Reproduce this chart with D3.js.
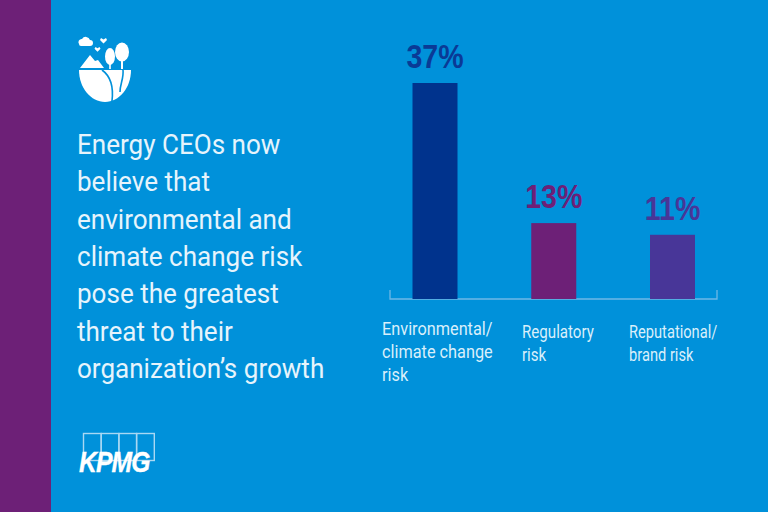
<!DOCTYPE html>
<html>
<head>
<meta charset="utf-8">
<script src="https://cdn.jsdelivr.net/npm/d3@7"></script>
<style>
  html, body { margin: 0; padding: 0; background: #0091da; }
  svg { display: block; }
</style>
</head>
<body>
<svg id="chart" width="768" height="512"></svg>
<script>
var categories = ["Environmental/|climate change|risk", "Regulatory|risk", "Reputational/|brand risk"];
var values = [37, 13, 11];
var barColors = ["#00338d", "#6d2077", "#483698"];
var labelColors = ["#0a3a96", "#6d2077", "#483698"];
var headline = [
  "Energy CEOs now",
  "believe that",
  "environmental and",
  "climate change risk",
  "pose the greatest",
  "threat to their",
  "organization\u2019s growth"
];

var blue = "#0091da";
var svg = d3.select("#chart");

// background and purple side band
svg.append("rect").attr("width", 768).attr("height", 512).attr("fill", blue);
svg.append("rect").attr("width", 51).attr("height", 512).attr("fill", "#6d2077");

// Scales, the baseline sits at y=299 and the tallest bar tops out at y=83
var x = d3.scalePoint().domain(categories).range([435, 672.5]);
var y = d3.scaleLinear().domain([0, 37]).range([299, 83]);
var barWidth = 45;

// Axis bracket
var axis = svg.append("g").attr("fill", "none").attr("stroke", "#6db8e6").attr("stroke-width", 1.3);
axis.append("path").attr("d", d3.line()([[390, 290], [390, 299], [717, 299], [717, 290]]));

// Bars
svg.selectAll("rect.bar")
  .data(values)
  .enter().append("rect")
    .attr("class", "bar")
    .attr("x", function(d, i) { return x(categories[i]) - barWidth / 2; })
    .attr("y", function(d) { return y(d); })
    .attr("width", barWidth)
    .attr("height", function(d) { return y(0) - y(d); })
    .attr("fill", function(d, i) { return barColors[i]; });

// Value labels, squeezed sideways since no condensed face is installed
svg.selectAll("text.value")
  .data(values)
  .enter().append("text")
    .attr("class", "value")
    .attr("transform", function(d, i) {
      return "translate(" + x(categories[i]) + "," + (y(d) - 15) + ") scale(0.84,1)";
    })
    .attr("text-anchor", "middle")
    .attr("font-family", "'Liberation Sans', sans-serif")
    .attr("font-weight", "bold")
    .attr("font-size", 34)
    .attr("fill", function(d, i) { return labelColors[i]; })
    .text(function(d) { return d + "%"; });

// Category labels, each line is its own tspan
var labelX = [382, 522, 629];
var labelY = [335, 338, 338];
var labelSqueeze = [0.905, 0.84, 0.815];
var catLabels = svg.selectAll("text.cat")
  .data(categories)
  .enter().append("text")
    .attr("class", "cat")
    .attr("transform", function(d, i) {
      return "translate(" + labelX[i] + "," + labelY[i] + ") scale(" + labelSqueeze[i] + ",1)";
    })
    .attr("font-family", "Roboto, sans-serif")
    .attr("font-size", 18)
    .attr("fill", "#d9effb");

catLabels.each(function(d, i) {
  var el = d3.select(this);
  d.split("|").forEach(function(line, j) {
    el.append("tspan")
      .attr("x", 0)
      .attr("y", j * 23)
      .text(line);
  });
});

// Headline on the left
svg.selectAll("text.headline")
  .data(headline)
  .enter().append("text")
    .attr("class", "headline")
    .attr("transform", function(d, i) {
      return "translate(77," + (154 + i * 37.3) + ") scale(0.965,1)";
    })
    .attr("font-family", "Roboto, sans-serif")
    .attr("font-size", 27)
    .attr("fill", "#e6f4fc")
    .text(function(d) { return d; });

// Globe/landscape icon
var icon = svg.append("g").attr("fill", "#ffffff");
icon.append("path").attr("d", "M79 70H131C131 88 119 102 105 102C91 102 79 88 79 70Z");
icon.append("path").attr("d", "M80 68L90 55L95 61L98 60L104 68Z");
icon.append("ellipse").attr("cx", 110).attr("cy", 56.5).attr("rx", 5).attr("ry", 8.5);
icon.append("rect").attr("x", 109.2).attr("y", 58).attr("width", 1.6).attr("height", 11);
icon.append("ellipse").attr("cx", 122).attr("cy", 52).attr("rx", 7).attr("ry", 9.5);
icon.append("rect").attr("x", 121).attr("y", 54).attr("width", 2).attr("height", 15);
icon.append("path").attr("d", "M79 44a3.2 3.2 0 0 1 3-5a4.4 4.4 0 0 1 8 1a3 3 0 0 1 0 6h-9a2 2 0 0 1-2-2Z");
icon.append("path").attr("d", "M101 38l2.5 1.5l2.5-1.5l1 2l-3.5 3.5l-3.5-3.5Z");
icon.append("path").attr("d", "M95.5 47l2 1.3l2-1.3l1 1.7l-3 3l-3-3Z");
icon.append("path")
  .attr("d", "M102 70C109 75 114 84 112 101M123 70C124 78 120 84 120 92")
  .attr("fill", "none")
  .attr("stroke", blue)
  .attr("stroke-width", 1.6);

// KPMG logo, four outlined boxes behind the wordmark
var boxes = svg.append("g").attr("fill", "none").attr("stroke", "#a9d8f3").attr("stroke-width", 1.4);
[0, 1, 2, 3].forEach(function(i) {
  boxes.append("rect").attr("x", 83.5 + i * 17.7).attr("y", 433.5).attr("width", 17.7).attr("height", 27);
});
svg.append("text")
  .attr("transform", "translate(79,472) scale(0.85,1)")
  .attr("font-family", "'Liberation Sans', sans-serif")
  .attr("font-weight", "bold")
  .attr("font-style", "italic")
  .attr("font-size", 29)
  .attr("letter-spacing", -1)
  .attr("stroke", "#ffffff")
  .attr("stroke-width", 0.4)
  .attr("fill", "#ffffff")
  .text("KPMG");
</script>
</body>
</html>
